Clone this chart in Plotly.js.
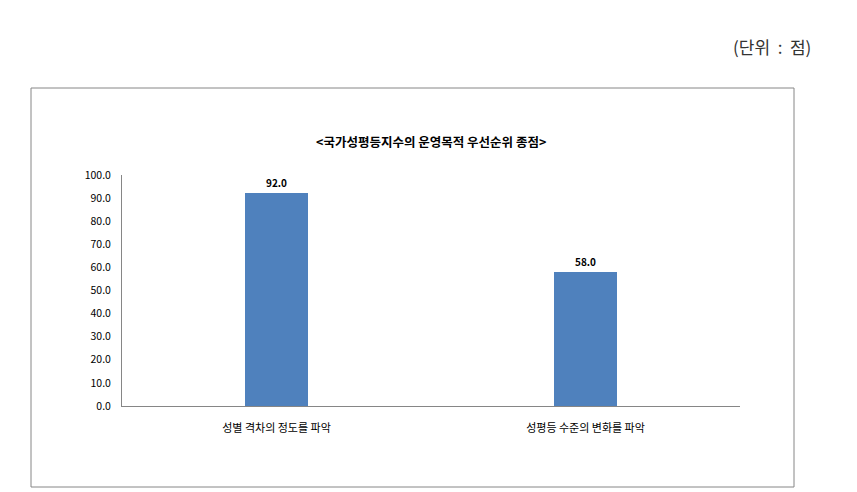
<!DOCTYPE html>
<html>
<head>
<meta charset="utf-8">
<script src="https://cdn.plot.ly/plotly-3.0.1.min.js"></script>
<style>
  html, body { margin: 0; padding: 0; background: #fff; }
  #plot { width: 857px; height: 492px; }
</style>
</head>
<body>
<div id="plot"></div>
<script>
"use strict";

// ── Data ──
const categories = ["성별 격차의 정도를 파악", "성평등 수준의 변화를 파악"];
const scores = [92.0, 58.0];
const yTicks = [0, 10, 20, 30, 40, 50, 60, 70, 80, 90, 100];

const FONT = "'Noto Sans CJK KR', 'Noto Sans', sans-serif";

const traces = [{
    type: "bar",
    x: categories,
    y: scores,
    width: 0.207,
    marker: { color: "#4F81BD", line: { width: 0 } },
    text: scores.map(v => "<b>" + v.toFixed(1) + "</b>"),
    textposition: "outside",
    cliponaxis: false,
    textfont: { size: 10, color: "#000", family: FONT },
    hoverinfo: "x+y",
}];

// Plot area: x 122→740, y 175→406 in pixels
const layout = {
    width: 857, height: 492,
    margin: { l: 122, r: 117, t: 175, b: 86 },
    paper_bgcolor: "#fff", plot_bgcolor: "#fff",
    showlegend: false,
    bargap: 0,
    font: { family: FONT, color: "#000" },
    xaxis: {
        showline: true, linecolor: "#868686", linewidth: 1,
        ticks: "", showgrid: false, zeroline: false,
        ticklabelstandoff: 12,
        tickfont: { size: 11, color: "#000", family: FONT },
        fixedrange: true,
    },
    yaxis: {
        range: [0, 100],
        tickvals: yTicks,
        ticktext: yTicks.map(v => v.toFixed(1)),
        showline: true, linecolor: "#868686", linewidth: 1,
        ticks: "", showgrid: false, zeroline: false,
        ticklabelstandoff: 8,
        tickfont: { size: 10.5, color: "#000", family: FONT },
        fixedrange: true,
    },
    shapes: [{
        type: "rect", xref: "paper", yref: "paper",
        x0: (31 - 122) / 618, x1: (794 - 122) / 618,
        y0: (406 - 487) / 231, y1: (406 - 88) / 231,
        line: { color: "#868686", width: 1 },
        fillcolor: "rgba(0,0,0,0)", layer: "below",
    }],
    annotations: [
        { text: "<b>&lt;국가성평등지수의 운영목적 우선순위 종점&gt;</b>",
          xref: "paper", yref: "paper",
          x: (431 - 122) / 618, y: (406 - 141) / 231,
          xanchor: "center", yanchor: "middle", showarrow: false,
          font: { size: 12.5, color: "#000", family: FONT } },
        { text: "(단위&nbsp;&nbsp;:&nbsp;&nbsp;점)",
          xref: "paper", yref: "paper",
          x: (813 - 122) / 618, y: (406 - 47) / 231,
          xanchor: "right", yanchor: "middle", showarrow: false,
          font: { size: 17, color: "#333", family: FONT } },
    ],
};

Plotly.newPlot("plot", traces, layout, { displayModeBar: false, staticPlot: true });
</script>
</body>
</html>
